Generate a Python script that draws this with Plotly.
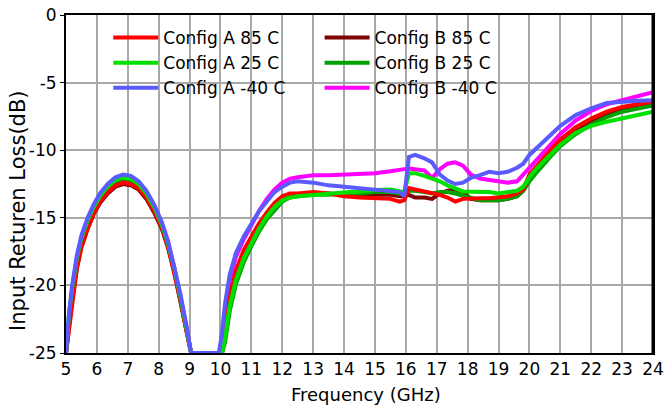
import plotly.graph_objects as go

freq = [5.0, 5.1, 5.2, 5.35, 5.5, 5.7, 5.9, 6.1, 6.35, 6.6, 6.85, 7.1, 7.35, 7.6, 7.85, 8.1, 8.3, 8.5, 8.7, 8.9, 9.05,
        9.5, 9.95, 10.05, 10.15,
        10.3, 10.5, 10.75, 11.0, 11.25, 11.5, 11.75, 12.0, 12.25,
        12.5, 13.0, 13.5, 14.0, 14.5, 15.0, 15.5, 15.8,
        15.95, 16.1, 16.3, 16.6, 16.85, 17.1, 17.35, 17.6, 17.85,
        18.1, 18.4, 18.7, 19.0, 19.3, 19.6, 19.8,
        20.0, 20.25, 20.5, 20.75, 21.0, 21.5, 22.0, 22.5, 23.0, 23.5, 24.0]

a_85 = [-25, -23.2, -21.2, -18.8, -17.2, -15.8, -14.7, -13.8, -13.1, -12.6, -12.4, -12.5, -12.8, -13.5, -14.5, -15.7, -17.1, -18.9, -21.0, -23.4, -25,
        -25, -25, -24.8, -22.8,
        -20.8, -18.9, -17.4, -16.4, -15.4, -14.6, -13.9, -13.4, -13.2,
        -13.2, -13.1, -13.2, -13.4, -13.5, -13.55, -13.6, -13.8,
        -13.7, -12.8, -12.9, -13.0, -13.1, -13.3, -13.5, -13.8, -13.6,
        -13.56, -13.56, -13.56, -13.5, -13.4, -13.2, -12.9,
        -11.8, -11.1, -10.4, -9.8, -9.2, -8.3, -7.65, -7.15, -6.8, -6.6, -6.4]

a_25 = [-25, -22.0, -20.2, -18.0, -16.5, -15.2, -14.2, -13.4, -12.7, -12.2, -12.0, -12.1, -12.5, -13.2, -14.2, -15.5, -16.9, -18.7, -20.8, -23.2, -25,
        -25, -25, -25, -23.8,
        -21.5, -19.6, -18.0, -16.9, -15.8, -14.9, -14.2, -13.7, -13.5,
        -13.4, -13.3, -13.2, -13.1, -13.0, -12.95, -12.9, -13.0,
        -13.1, -11.7, -11.7, -11.9, -12.1, -12.3, -12.6, -12.85, -13.05,
        -13.07, -13.07, -13.1, -13.2, -13.1, -13.0, -12.7,
        -12.0, -11.3, -10.7, -10.1, -9.6, -8.7, -8.2, -7.9, -7.65, -7.4, -7.15]

a_m40 = [-25, -22, -20, -17.8, -16.3, -15.0, -14.0, -13.2, -12.5, -12.0, -11.8, -11.9, -12.3, -13.0, -14.0, -15.3, -16.7, -18.5, -20.6, -23.0, -25,
         -25, -25, -23.5, -21.3,
         -19.2, -17.6, -16.4, -15.4, -14.5, -13.8, -13.1, -12.7, -12.4,
         -12.3, -12.4, -12.6, -12.7, -12.8, -12.95, -13.0, -13.1,
         -13.4, -10.5, -10.35, -10.6, -10.9, -11.8, -12.25, -12.5, -12.4,
         -12.05, -11.85, -11.6, -11.7, -11.6, -11.3, -11.0,
         -10.35, -9.8, -9.25, -8.7, -8.2, -7.4, -6.9, -6.5, -6.4, -6.35, -6.3]

b_85 = [-25, -23.0, -21.0, -18.7, -17.1, -15.8, -14.7, -13.9, -13.2, -12.7, -12.5, -12.6, -12.9, -13.6, -14.6, -15.8, -17.2, -19.0, -21.1, -23.4, -25,
        -25, -25, -25, -23.5,
        -21.2, -19.2, -17.7, -16.6, -15.6, -14.8, -14.1, -13.6, -13.4,
        -13.3, -13.2, -13.2, -13.3, -13.3, -13.3, -13.3, -13.4,
        -13.4, -13.3, -13.5, -13.5, -13.6, -13.2, -13.0, -12.9, -13.1,
        -13.6, -13.7, -13.7, -13.7, -13.6, -13.4, -13.0,
        -12.2, -11.5, -10.8, -10.2, -9.5, -8.6, -7.9, -7.4, -7.0, -6.75, -6.5]

b_25 = [-25, -22.6, -20.6, -18.3, -16.8, -15.5, -14.4, -13.6, -12.9, -12.4, -12.2, -12.3, -12.7, -13.4, -14.4, -15.6, -17.0, -18.8, -20.9, -23.3, -25,
        -25, -25, -25, -24.2,
        -21.9, -19.9, -18.3, -17.1, -16.0, -15.1, -14.4, -13.8, -13.5,
        -13.4, -13.3, -13.3, -13.2, -13.2, -13.1, -13.1, -13.2,
        -13.2, -13.0, -13.0, -13.1, -13.2, -13.1, -13.1, -13.2, -13.35,
        -13.5, -13.7, -13.7, -13.7, -13.6, -13.4, -13.0,
        -12.3, -11.6, -10.9, -10.3, -9.7, -8.8, -8.1, -7.55, -7.15, -6.9, -6.7]

b_m40 = [-25, -22.3, -20.3, -18.0, -16.5, -15.2, -14.1, -13.3, -12.6, -12.1, -11.9, -12.0, -12.4, -13.1, -14.1, -15.4, -16.8, -18.6, -20.7, -23.1, -25,
         -25, -25, -24.0, -21.8,
         -19.6, -17.9, -16.6, -15.5, -14.5, -13.6, -12.9, -12.4, -12.1,
         -12.0, -11.85, -11.85, -11.8, -11.75, -11.7, -11.55, -11.4,
         -11.4, -11.35, -11.4, -11.5, -12.05, -11.4, -11.0, -10.9, -11.15,
         -11.8, -12.1, -12.2, -12.3, -12.4, -12.3, -11.8,
         -11.25, -10.6, -10.0, -9.4, -8.8, -7.8, -7.1, -6.6, -6.3, -6.0, -5.7]

x_ticks = list(range(5, 25))
y_ticks = [0, -5, -10, -15, -20, -25]
x_title = "Frequency (GHz)"
y_title = "Input Returen Loss(dB)"

FONT = "DejaVu Sans"

series = [
    ("Config B 85 C", b_85, "#800000", "legend2"),
    ("Config B 25 C", b_25, "#00a000", "legend2"),
    ("Config B -40 C", b_m40, "#ff00ff", "legend2"),
    ("Config A 85 C", a_85, "#ff0000", "legend"),
    ("Config A 25 C", a_25, "#00e000", "legend"),
    ("Config A -40 C", a_m40, "#5a5aff", "legend"),
]

fig = go.Figure()
for name, vals, col, lg in series:
    fig.add_trace(go.Scatter(x=freq, y=vals, mode="lines", name=name,
                             line=dict(color=col, width=4), legend=lg))

fig.update_layout(
    width=667, height=410,
    margin=dict(l=66, r=14, t=15, b=57, autoexpand=False),
    paper_bgcolor="white", plot_bgcolor="white",
    font=dict(family=FONT, size=17, color="black"),
    legend=dict(x=0.072, y=0.985, xanchor="left", yanchor="top",
                bgcolor="rgba(0,0,0,0)", traceorder="normal",
                font=dict(size=17), itemwidth=45, tracegroupgap=0),
    legend2=dict(x=0.432, y=0.985, xanchor="left", yanchor="top",
                 bgcolor="rgba(0,0,0,0)", traceorder="normal",
                 font=dict(size=17), itemwidth=45, tracegroupgap=0),
    shapes=[
        dict(type="rect", xref="paper", yref="paper", x0=0.051, x1=0.763,
             y0=0.71, y1=0.985, fillcolor="white", line=dict(width=0), layer="between"),
        dict(type="line", xref="paper", yref="paper", x0=1, x1=1, y0=0, y1=1,
             line=dict(color="black", width=3), layer="above"),
    ],
    annotations=[
        dict(text=x_title, xref="paper", yref="paper", x=0.511, y=-0.124,
             xanchor="center", yanchor="middle", showarrow=False, font=dict(size=18)),
        dict(text=y_title, xref="paper", yref="paper", x=-0.082, y=0.42,
             xanchor="center", yanchor="middle", showarrow=False, textangle=-90,
             font=dict(size=21)),
    ],
)
fig.update_xaxes(range=[5, 24], tickvals=x_ticks, ticktext=[str(v) for v in x_ticks],
                 showgrid=True, gridcolor="#a8a8a8", gridwidth=2,
                 showline=True, linecolor="black", linewidth=2, mirror=True,
                 ticks="", zeroline=False, automargin=False)
fig.update_yaxes(range=[-25, 0], tickvals=y_ticks, ticktext=[str(v) for v in y_ticks],
                 showgrid=True, gridcolor="#a8a8a8", gridwidth=2,
                 showline=True, linecolor="black", linewidth=2, mirror=True,
                 ticks="outside", ticklen=4, tickcolor="black", zeroline=False, automargin=False)

fig.write_html("out.html", config={"displayModeBar": False},
               post_script="document.body.style.margin='0';document.body.style.padding='0';")
